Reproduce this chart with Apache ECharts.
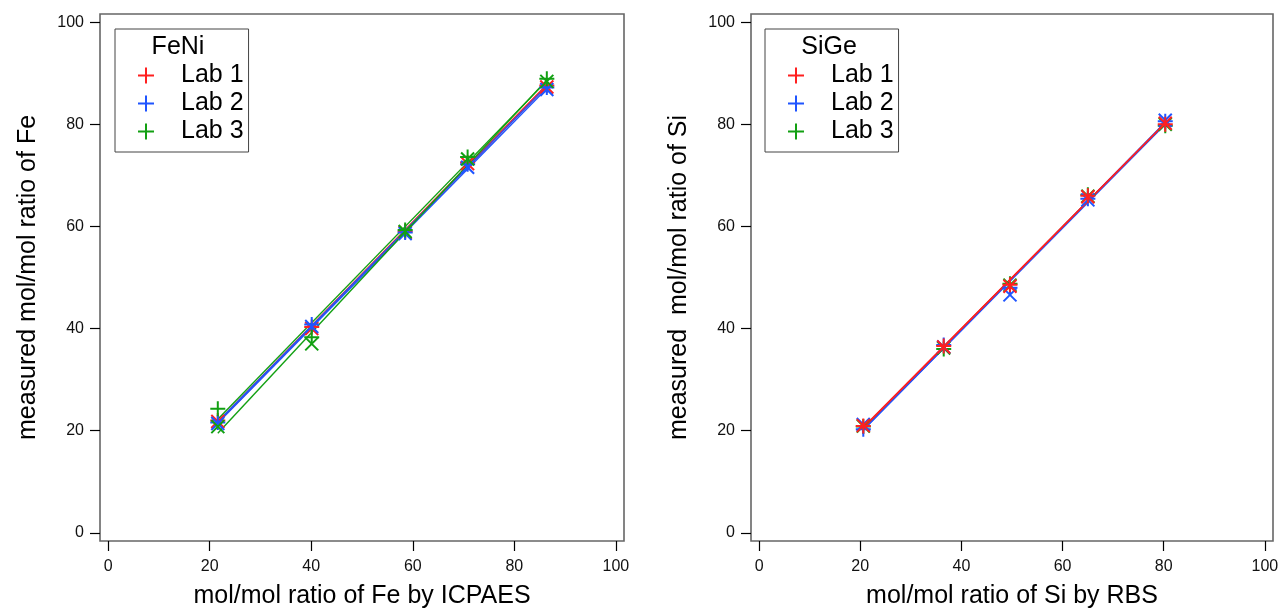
<!DOCTYPE html>
<html>
<head>
<meta charset="utf-8">
<script src="https://cdn.jsdelivr.net/npm/echarts@6/dist/echarts.min.js"></script>
<style>
  html, body { margin: 0; padding: 0; background: #fff; }
  #chart { width: 1281px; height: 608px; }
</style>
</head>
<body>
<div id="chart"></div>
<script>
// FeNi panel: reference x (ICPAES) and measured values, + and x markers per lab
const feX = [21.6, 40.1, 58.5, 70.8, 86.4];
const feLab1Plus = [22.0, 40.3, 59.0, 72.5, 87.6];
const feLab1Cross = [21.8, 40.0, 58.8, 72.3, 87.3];
const feLab2Plus = [21.6, 40.8, 58.8, 72.2, 87.2];
const feLab2Cross = [21.4, 40.4, 58.6, 71.6, 86.8];
const feLab3Plus = [24.3, 38.3, 59.3, 73.6, 88.9];
const feLab3Cross = [20.8, 37.0, 59.0, 73.2, 88.4];

// SiGe panel: reference x (RBS) and measured values
const siX = [20.6, 36.5, 49.6, 65.0, 80.3];
const siLab1Plus = [20.9, 36.6, 48.6, 66.0, 80.0];
const siLab1Cross = [21.0, 36.4, 48.3, 65.8, 80.2];
const siLab2Plus = [20.3, 36.8, 48.0, 65.4, 80.6];
const siLab2Cross = [21.2, 36.4, 46.6, 65.2, 80.8];
const siLab3Plus = [20.8, 36.0, 48.8, 66.2, 79.7];
const siLab3Cross = [20.9, 36.2, 48.5, 65.9, 80.0];

const tickValues = [0, 20, 40, 60, 80, 100];
const labNames = ['Lab 1', 'Lab 2', 'Lab 3'];
const labColors = ['#ff2020', '#1f55ff', '#12a012'];

const FONT = 'Liberation Sans, Arial, sans-serif';
const PLUS = 'path://M0,-1L0,1M-1,0L1,0';
const CROSS = 'path://M-1,-1L1,1M-1,1L1,-1';

// 最小二乘拟合，返回两端点
function fitLine(xs, ys) {
  const n = xs.length;
  const mx = xs.reduce((a, b) => a + b, 0) / n;
  const my = ys.reduce((a, b) => a + b, 0) / n;
  let sxy = 0, sxx = 0;
  for (let i = 0; i < n; i++) {
    sxy += (xs[i] - mx) * (ys[i] - my);
    sxx += (xs[i] - mx) * (xs[i] - mx);
  }
  const b = sxy / sxx;
  const a = my - b * mx;
  const x0 = Math.min(...xs), x1 = Math.max(...xs);
  return [[x0, a + b * x0], [x1, a + b * x1]];
}

function pairs(xs, ys) {
  return xs.map((x, i) => [x, ys[i]]);
}

// order: 画线顺序（后画的在上面）
function panelSeries(idx, xs, plusSets, crossSets, order) {
  const out = [];
  // 拟合线
  order.forEach(k => {
    [plusSets[k], crossSets[k]].forEach((ys, j) => {
      out.push({
        name: labNames[k] + (j ? ' x fit' : ' + fit') + idx,
        type: 'line',
        xAxisIndex: idx, yAxisIndex: idx,
        data: fitLine(xs, ys),
        showSymbol: false,
        silent: true,
        lineStyle: { color: labColors[k], width: 1.4 },
        z: 2
      });
    });
  });
  // 标记点
  order.forEach(k => {
    out.push({
      name: labNames[k],
      type: 'scatter',
      xAxisIndex: idx, yAxisIndex: idx,
      data: pairs(xs, plusSets[k]),
      symbol: PLUS,
      symbolSize: 15,
      itemStyle: { color: 'transparent', borderColor: labColors[k], borderWidth: 2, opacity: 1 },
      z: 3
    });
    out.push({
      name: labNames[k] + ' x' + idx,
      type: 'scatter',
      xAxisIndex: idx, yAxisIndex: idx,
      data: pairs(xs, crossSets[k]),
      symbol: CROSS,
      symbolSize: 13,
      itemStyle: { color: 'transparent', borderColor: labColors[k], borderWidth: 2, opacity: 1 },
      z: 3
    });
  });
  return out;
}

function xAxisDef(idx, name) {
  return {
    type: 'value', gridIndex: idx, min: -1.6, max: 101.6,
    name: name, nameLocation: 'middle', nameGap: 43,
    nameTextStyle: { fontSize: 25, color: '#000', fontFamily: FONT },
    axisLine: { show: false, onZero: false },
    axisTick: { show: true, length: 10, customValues: tickValues, lineStyle: { color: '#000', width: 1.2 } },
    axisLabel: { customValues: tickValues, fontSize: 16, color: '#111', margin: 18, fontFamily: FONT },
    splitLine: { show: false }
  };
}

function yAxisDef(idx, name) {
  return {
    type: 'value', gridIndex: idx, min: -1.6, max: 101.6,
    name: name, nameLocation: 'middle', nameGap: 59,
    nameTextStyle: { fontSize: 25, color: '#000', fontFamily: FONT },
    axisLine: { show: false, onZero: false },
    axisTick: { show: true, length: 10, customValues: tickValues, lineStyle: { color: '#000', width: 1.2 } },
    axisLabel: { customValues: tickValues, fontSize: 16, color: '#111', margin: 16, fontFamily: FONT },
    splitLine: { show: false }
  };
}

function legendDef(left) {
  return {
    orient: 'vertical',
    left: left, top: 29,
    padding: [34, 5, 8, 22],
    itemWidth: 60, itemHeight: 16, itemGap: 3,
    borderColor: '#444', borderWidth: 1,
    textStyle: { fontSize: 25, color: '#000', fontFamily: FONT },
    selectedMode: false,
    data: labNames.map((n, k) => ({
      name: n,
      icon: PLUS,
      itemStyle: { color: 'transparent', borderColor: labColors[k], borderWidth: 2, opacity: 1 }
    }))
  };
}

const chart = echarts.init(document.getElementById('chart'));
chart.setOption({
  animation: false,
  backgroundColor: '#fff',
  grid: [
    { left: 100, top: 14, width: 524, height: 527, outerBoundsMode: 'none', containLabel: false, show: true, borderColor: '#666', borderWidth: 1.6, backgroundColor: 'transparent' },
    { left: 751, top: 14, width: 522, height: 527, outerBoundsMode: 'none', containLabel: false, show: true, borderColor: '#666', borderWidth: 1.6, backgroundColor: 'transparent' }
  ],
  xAxis: [
    xAxisDef(0, 'mol/mol ratio of Fe by ICPAES'),
    xAxisDef(1, 'mol/mol ratio of Si by RBS')
  ],
  yAxis: [
    yAxisDef(0, 'measured mol/mol ratio of Fe'),
    yAxisDef(1, 'measured  mol/mol ratio of Si')
  ],
  legend: [legendDef(115), legendDef(765)],
  graphic: [
    { type: 'text', x: 178, y: 47, style: { text: 'FeNi', font: '25px ' + FONT, fill: '#000', align: 'center', verticalAlign: 'middle' } },
    { type: 'text', x: 829, y: 47, style: { text: 'SiGe', font: '25px ' + FONT, fill: '#000', align: 'center', verticalAlign: 'middle' } }
  ],
  series: [
    ...panelSeries(0, feX,
      [feLab1Plus, feLab2Plus, feLab3Plus],
      [feLab1Cross, feLab2Cross, feLab3Cross], [0, 1, 2]),
    ...panelSeries(1, siX,
      [siLab1Plus, siLab2Plus, siLab3Plus],
      [siLab1Cross, siLab2Cross, siLab3Cross], [2, 1, 0])
  ]
});
</script>
</body>
</html>
